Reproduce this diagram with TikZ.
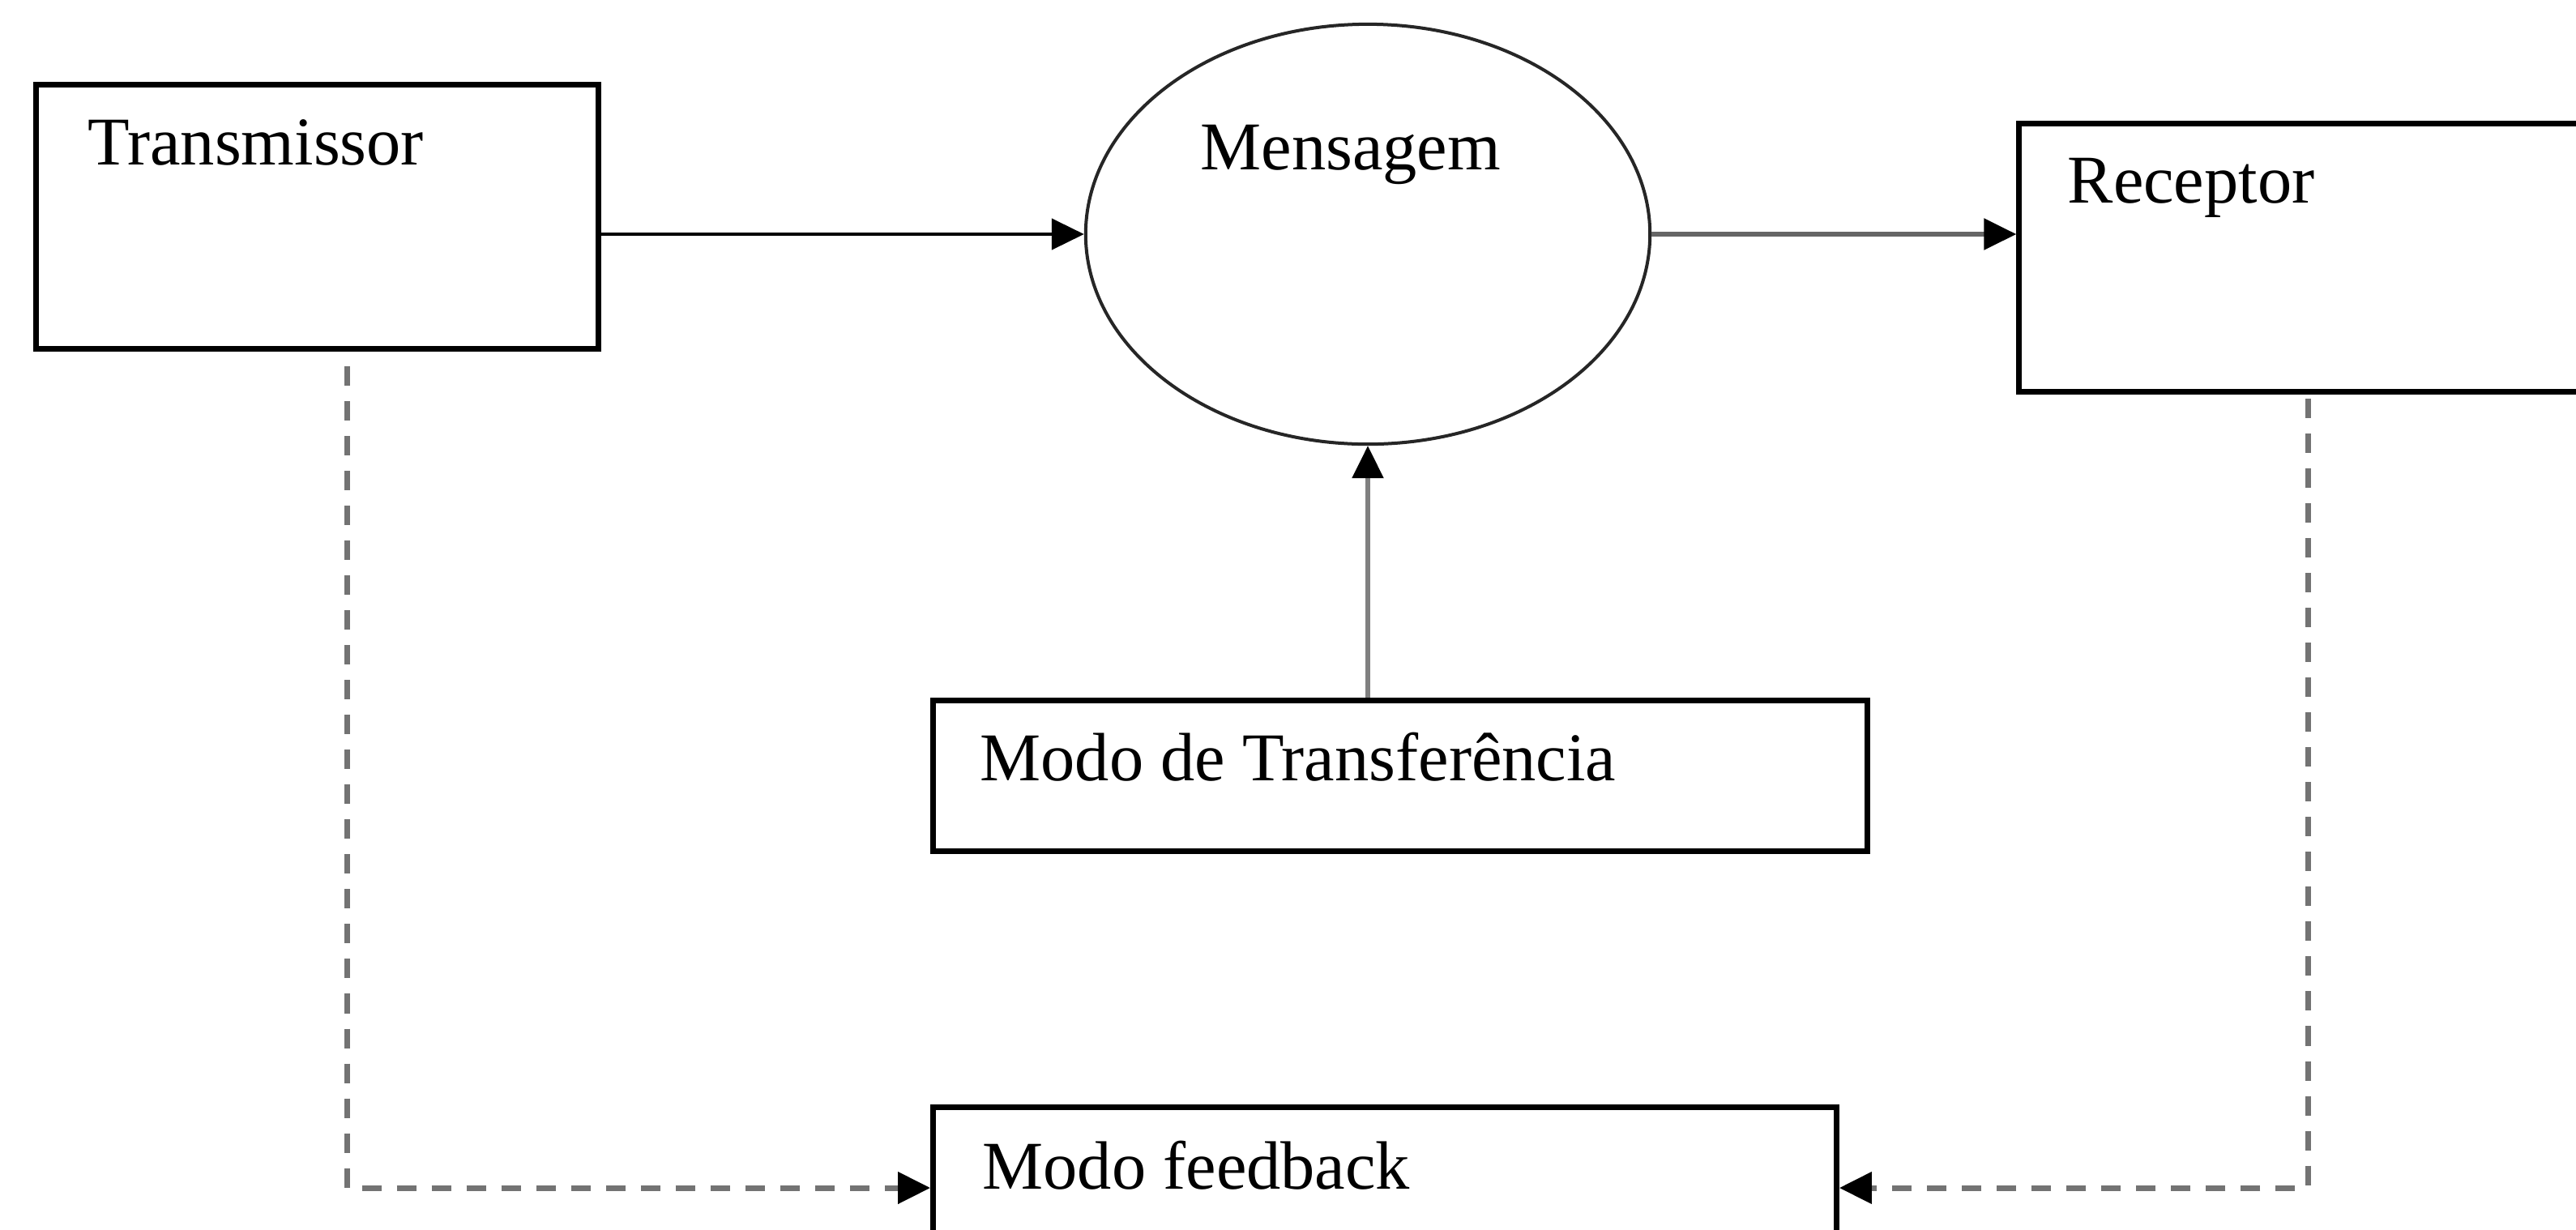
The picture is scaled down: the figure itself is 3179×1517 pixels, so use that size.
\documentclass[tikz,border=0pt]{standalone}
\usepackage{fontspec}
\setmainfont{Liberation Serif}
\usetikzlibrary{arrows.meta,shapes.geometric}

\begin{document}
\begin{tikzpicture}[x=0.01cm,y=-0.01cm,
  box/.style={draw=black,line width=0.07cm,rectangle,inner sep=0pt,fill=white},
  lbl/.style={anchor=base west,inner sep=0pt,font=\fontsize{24}{28}\selectfont},
  tip/.style={-{Triangle[length=0.4cm,width=0.38cm,black]}},
  fback/.style={tip,draw=black!55,line width=0.07cm,dash pattern=on 0.24cm off 0.19cm}
]
\clip (0,0) rectangle (3179,1517);
\fill[white] (0,0) rectangle (3179,1517);

% boxes and the message ellipse
\node[box,minimum width=6.93cm,minimum height=3.25cm] (trans) at (391.5,267.5) {};
\node[box,minimum width=8.08cm,minimum height=3.30cm] (rec) at (2896,318) {};
\node[draw=black!85,line width=0.04cm,ellipse,minimum width=6.96cm,minimum height=5.18cm,inner sep=0pt] (msg) at (1688,289) {};
\node[box,minimum width=11.52cm,minimum height=1.85cm] (modo) at (1728,957.5) {};
\node[box,minimum width=11.14cm,minimum height=1.98cm] (fb) at (1709,1466) {};

% labels
\node[lbl] (transtxt) at (108,203) {Transmissor};
\node[lbl] (msgtxt) at (1481,209) {Mensagem};
\node[lbl] (rectxt) at (2551,250) {Receptor};
\node[lbl] (modotxt) at (1209,963) {Modo de Transferência};
\node[lbl] (fbtxt) at (1212,1467) {Modo feedback};

% main flow
\draw[tip,line width=0.045cm] (trans.east |- msg.west) -- (msg.west);
\draw[tip,draw=black!60,line width=0.055cm] (msg.east) -- (rec.west |- msg.east);
\draw[tip,draw=black!50,line width=0.055cm] (msg.south |- modo.north) -- (msg.south);

% feedback paths
\coordinate (tdrop) at (428,452);
\coordinate (rdrop) at (2848,492);
\draw[fback] (tdrop) |- (fb.west);
\draw[fback] (rdrop) |- (fb.east);
\end{tikzpicture}
\end{document}
